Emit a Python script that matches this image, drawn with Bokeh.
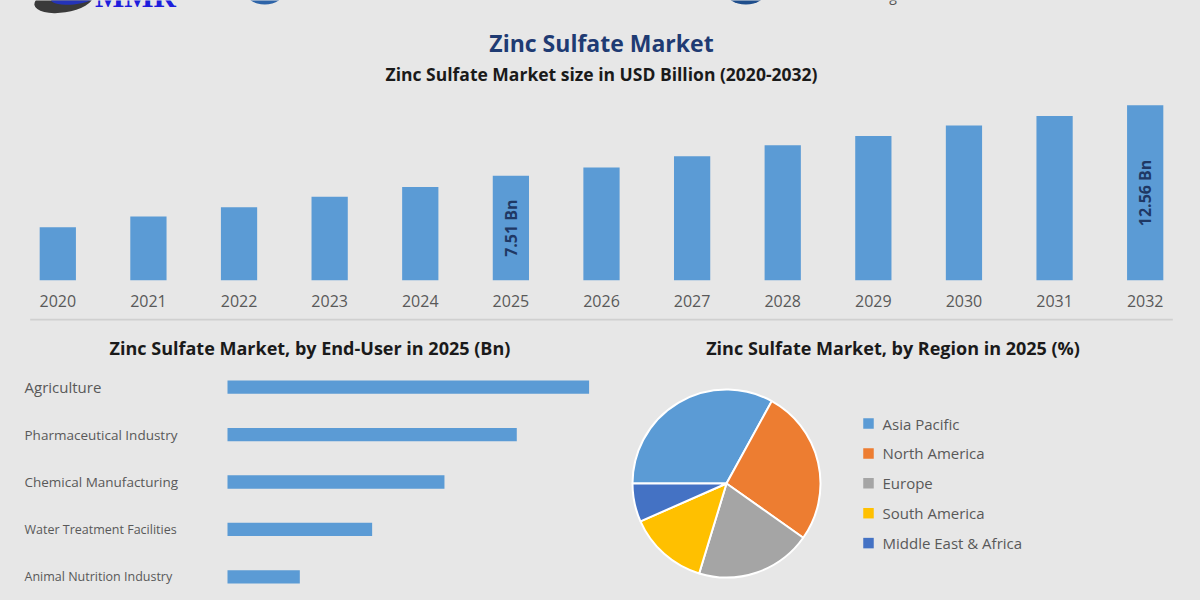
import math

from bokeh.core.properties import value
from bokeh.embed import file_html
from bokeh.layouts import column, row
from bokeh.models import ColumnDataSource, FactorRange, Range1d
from bokeh.plotting import figure
from bokeh.resources import INLINE

# ---------------------------------------------------------------- data
years = ["2020", "2021", "2022", "2023", "2024", "2025", "2026",
         "2027", "2028", "2029", "2030", "2031", "2032"]
market_size = [3.82, 4.58, 5.25, 6.01, 6.71, 7.51, 8.11,
               8.90, 9.69, 10.36, 11.12, 11.79, 12.56]
labelled_years = ["2025", "2032"]

end_users = ["Agriculture", "Pharmaceutical Industry", "Chemical Manufacturing",
             "Water Treatment Facilities", "Animal Nutrition Industry"]
end_user_value = [2.50, 2.00, 1.50, 1.00, 0.50]

regions = ["Asia Pacific", "North America", "Europe", "South America",
           "Middle East & Africa"]
region_share = [33.0, 26.8, 19.9, 13.7, 6.6]

# ---------------------------------------------------------------- styles
BG = "#E7E7E7"
FONT = "Open Sans"
BAR_BLUE = "#5B9BD5"
NAVY = "#1F3B73"
INK = "#1A1A1A"
GREY_TEXT = "#595959"
region_colors = ["#5B9BD5", "#ED7D31", "#A5A5A5", "#FFC000", "#4472C4"]
end_user_label_size = ["15px", "13.5px", "13.5px", "12.5px", "12.5px"]
PAGE_STYLE = {"background-color": BG}


def blank(width, height, x_range, y_range, **kw):
    p = figure(width=width, height=height, x_range=x_range, y_range=y_range,
               output_backend="svg", toolbar_location=None,
               background_fill_color=BG, border_fill_color=BG,
               outline_line_color=None, min_border=0, styles=PAGE_STYLE, **kw)
    p.grid.visible = False
    return p


# ---------------------------------------------------------------- header
header = blank(1200, 88, Range1d(0, 1200), Range1d(88, 0),
               x_axis_location=None, y_axis_location=None)
# logo remnants along the top edge
header.ellipse(x=[52], y=[0], width=[60], height=[24], angle=[0.15],
               fill_color="#3A3A3A", line_color=None)
header.ellipse(x=[62], y=[-3], width=[46], height=[14], angle=[0.1],
               fill_color="#2433B8", line_color=None)
header.text(x=[84], y=[-4], text=["MMR"], text_font=value("Liberation Serif"),
            text_font_style="bold", text_font_size="31px", text_color="#1E1EDC",
            text_align="left", text_baseline="middle")
header.ellipse(x=[257, 747], y=[-10, -10], width=[40, 42], height=[28, 28],
               fill_color=["#2E64A8", "#1F4E8C"], line_color=None)
header.text(x=[893], y=[-5], text=["g"], text_font=value(FONT),
            text_font_size="14px", text_color="#555555", text_baseline="middle")

header.text(x=[600], y=[42], text=["Zinc Sulfate Market"], text_font=value(FONT),
            text_font_style="bold", text_font_size="23px", text_color=NAVY,
            text_align="center", text_baseline="middle")
header.text(x=[600], y=[73], text=["Zinc Sulfate Market size in USD Billion (2020-2032)"],
            text_font=value(FONT), text_font_style="bold", text_font_size="17.5px",
            text_color=INK, text_align="center", text_baseline="middle")

# ---------------------------------------------------------------- yearly bars
PX_PER_BN = 1 / 0.0717
bars = blank(1200, 230, FactorRange(*years), Range1d(0, 192 / PX_PER_BN),
             y_axis_location=None, min_border_left=12, min_border_right=10,
             min_border_bottom=38)
bar_src = ColumnDataSource(dict(year=years, size=market_size))
bars.vbar(x="year", top="size", width=0.4, source=bar_src,
          fill_color=BAR_BLUE, line_color=None)

lab_vals = [market_size[years.index(y)] for y in labelled_years]
lab_src = ColumnDataSource(dict(
    year=labelled_years,
    mid=[v / 2 for v in lab_vals],
    text=[f"{v:.2f} Bn" for v in lab_vals],
))
bars.text(x="year", y="mid", text="text", source=lab_src, angle=math.pi / 2,
          text_font=value(FONT), text_font_style="bold", text_font_size="16px",
          text_color="#1F3864", text_align="center", text_baseline="middle")

xa = bars.xaxis[0]
xa.axis_line_color = None
xa.major_tick_line_color = None
xa.minor_tick_line_color = None
xa.major_tick_out = 0
xa.major_label_standoff = 14
xa.major_label_text_font = FONT
xa.major_label_text_font_size = "16px"
xa.major_label_text_color = GREY_TEXT

# ---------------------------------------------------------------- divider + panel titles
mid = blank(1200, 45, Range1d(0, 1200), Range1d(45, 0),
            x_axis_location=None, y_axis_location=None)
mid.segment(x0=[18], y0=[1], x1=[1182], y1=[1], line_width=2, line_color="#D0D0D0")
mid.text(x=[303, 897], y=[29, 29],
         text=["Zinc Sulfate Market, by End-User in 2025 (Bn)",
               "Zinc Sulfate Market, by Region in 2025 (%)"],
         text_font=value(FONT), text_font_style="bold", text_font_size="18px",
         text_color=INK, text_align="center", text_baseline="middle")

# ---------------------------------------------------------------- end-user bars
PX_PER_UNIT = 361.6 / 2.5
BAR_LEFT_PX = 227
hbar = blank(600, 237,
             Range1d(-BAR_LEFT_PX / PX_PER_UNIT, (600 - BAR_LEFT_PX) / PX_PER_UNIT),
             FactorRange(*reversed(end_users)),
             x_axis_location=None, y_axis_location=None)
eu_src = ColumnDataSource(dict(user=end_users, val=end_user_value,
                               size=end_user_label_size))
hbar.hbar(y="user", left=0, right="val", height=0.28, source=eu_src,
          fill_color=BAR_BLUE, line_color=None)
hbar.text(x=-(BAR_LEFT_PX - 24) / PX_PER_UNIT, y="user", text="user", source=eu_src,
          text_font=value(FONT), text_font_size="size", text_color=GREY_TEXT,
          text_align="left", text_baseline="middle")

# ---------------------------------------------------------------- regional pie
pie = blank(600, 237, Range1d(0, 600), Range1d(0, 237),
            x_axis_location=None, y_axis_location=None)
total = sum(region_share)
starts, ends, acc = [], [], 0.0
for share in region_share:
    # slices run clockwise, beginning at nine o'clock
    a0 = math.pi - 2 * math.pi * acc / total
    acc += share
    a1 = math.pi - 2 * math.pi * acc / total
    starts.append(a1)
    ends.append(a0)
pie_src = ColumnDataSource(dict(region=regions, share=region_share,
                                start=starts, end=ends, color=region_colors))
pie.wedge(x=126, y=117, radius=94, start_angle="start", end_angle="end",
          direction="anticlock", source=pie_src, fill_color="color",
          line_color="white", line_width=2)

legend_y = [177 - 29.9 * i for i in range(len(regions))]
leg_src = ColumnDataSource(dict(region=regions, y=legend_y, color=region_colors))
pie.rect(x=268, y="y", width=10.5, height=10.5, source=leg_src,
         fill_color="color", line_color=None)
pie.text(x=282, y="y", text="region", source=leg_src, text_font=value(FONT),
         text_font_size="15px", text_color=GREY_TEXT, text_align="left",
         text_baseline="middle")

layout = column(header, bars, mid, row(hbar, pie, spacing=0, styles=PAGE_STYLE),
                spacing=0, styles=PAGE_STYLE)

with open("out.html", "w") as f:
    f.write(file_html(layout, INLINE, title="Zinc Sulfate Market"))
